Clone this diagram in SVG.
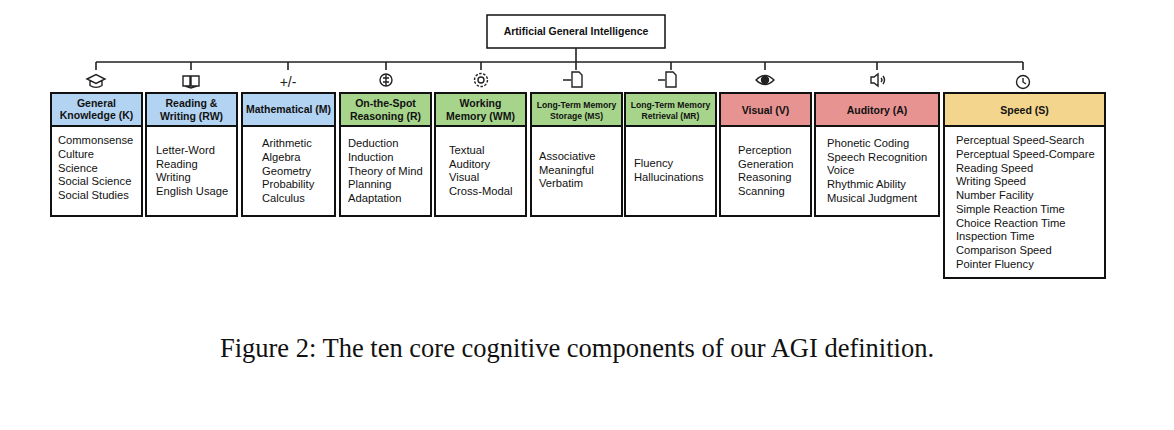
<svg xmlns="http://www.w3.org/2000/svg" width="1174" height="430" viewBox="0 0 1174 430">
<style>
.box{fill:#fff;stroke:#111;stroke-width:2}
.hd{stroke:#111;stroke-width:2}
.b{fill:#b3d3f2}.g{fill:#a6d48b}.r{fill:#e69391}.y{fill:#f3d58e}
.ht{font-family:"Liberation Sans",Arial,sans-serif;font-weight:bold;font-size:10.5px;fill:#111;text-anchor:middle}
.hs{font-size:8.6px}
.t{font-family:"Liberation Sans",Arial,sans-serif;font-size:11.2px;fill:#111}
.ln{stroke:#222;stroke-width:1.6;fill:none}
.ic{stroke:#222;stroke-width:1.4;fill:none}
</style>
<rect width="1174" height="430" fill="#fff"/>
<g id="root"><rect x="487" y="15" width="178" height="33" fill="#fff" stroke="#111" stroke-width="1.5"/><text class="ht" x="576" y="35">Artificial General Intelligence</text></g>
<g id="connectors" class="ln">
<path d="M576 48V62M96 62H1023M96 62V70M191 62V70M288 62V70M386 62V70M481 62V70M576 62V70M671 62V70M765 62V70M877 62V70M1023 62V70"/>
</g>
<g id="icons" class="ic">
<path d="M87 79l9-4.5 9 4.5-9 4.5z M90 81v4.5c3.5 2.5 8.5 2.5 12 0v-4.5"/>
<path d="M183 76h7v10h-7z M191 76h8v10h-8z M185 86l6 2 6-2"/>
<text x="288" y="87" font-family="Liberation Sans,sans-serif" font-size="14" fill="#222" stroke="none" text-anchor="middle">+/-</text>
<circle cx="386" cy="80" r="6"/><path d="M386 74v12 M383 78h6 M383 82h6"/>
<circle cx="481" cy="80" r="3"/><circle cx="481" cy="80" r="6.5" stroke-dasharray="2.5 1.5"/>
<path d="M572 72h7l3 3v12h-10z M563 80h8"/>
<path d="M666 72h7l3 3v12h-10z M658 80h7"/>
<path d="M756 80q9-9 18 0q-9 9-18 0z"/><circle cx="765" cy="80" r="3.5" fill="#222"/>
<path d="M871 77h3l4-3v12l-4-3h-3z M881 78q2 2 0 4 M883 76q3 4 0 8"/>
<circle cx="1023" cy="82" r="6.5"/><path d="M1023 78v4l3 2"/>
</g>
<g id="K"><rect class="box" x="51" y="93" width="91" height="123"/><rect class="hd b" x="51" y="93" width="91" height="33"/><text class="ht" x="96.5" y="107">General</text><text class="ht" x="96.5" y="119">Knowledge (K)</text>
<text class="t" x="58" y="144">Commonsense</text><text class="t" x="58" y="158">Culture</text><text class="t" x="58" y="172">Science</text><text class="t" x="58" y="185">Social Science</text><text class="t" x="58" y="199">Social Studies</text></g>
<g id="RW"><rect class="box" x="146" y="93" width="91" height="123"/><rect class="hd b" x="146" y="93" width="91" height="33"/><text class="ht" x="191.5" y="107">Reading &amp;</text><text class="ht" x="191.5" y="120">Writing (RW)</text>
<text class="t" x="156" y="154">Letter-Word</text><text class="t" x="156" y="168">Reading</text><text class="t" x="156" y="181">Writing</text><text class="t" x="156" y="195">English Usage</text></g>
<g id="M"><rect class="box" x="242" y="93" width="93" height="123"/><rect class="hd b" x="242" y="93" width="93" height="33"/><text class="ht" x="288.5" y="113">Mathematical (M)</text>
<text class="t" x="262" y="147">Arithmetic</text><text class="t" x="262" y="161">Algebra</text><text class="t" x="262" y="175">Geometry</text><text class="t" x="262" y="188">Probability</text><text class="t" x="262" y="202">Calculus</text></g>
<g id="R"><rect class="box" x="340" y="93" width="91" height="123"/><rect class="hd g" x="340" y="93" width="91" height="33"/><text class="ht" x="385.5" y="107">On-the-Spot</text><text class="ht" x="385.5" y="120">Reasoning (R)</text>
<text class="t" x="348" y="147">Deduction</text><text class="t" x="348" y="161">Induction</text><text class="t" x="348" y="175">Theory of Mind</text><text class="t" x="348" y="188">Planning</text><text class="t" x="348" y="202">Adaptation</text></g>
<g id="WM"><rect class="box" x="435" y="93" width="91" height="123"/><rect class="hd g" x="435" y="93" width="91" height="33"/><text class="ht" x="480.5" y="107">Working</text><text class="ht" x="480.5" y="120">Memory (WM)</text>
<text class="t" x="449" y="154">Textual</text><text class="t" x="449" y="168">Auditory</text><text class="t" x="449" y="181">Visual</text><text class="t" x="449" y="195">Cross-Modal</text></g>
<g id="MS"><rect class="box" x="531" y="93" width="91" height="123"/><rect class="hd g" x="531" y="93" width="91" height="33"/><text class="ht hs" x="576.5" y="108">Long-Term Memory</text><text class="ht hs" x="576.5" y="119">Storage (MS)</text>
<text class="t" x="539" y="160">Associative</text><text class="t" x="539" y="174">Meaningful</text><text class="t" x="539" y="187">Verbatim</text></g>
<g id="MR"><rect class="box" x="625" y="93" width="91" height="123"/><rect class="hd g" x="625" y="93" width="91" height="33"/><text class="ht hs" x="670.5" y="108">Long-Term Memory</text><text class="ht hs" x="670.5" y="119">Retrieval (MR)</text>
<text class="t" x="634" y="167">Fluency</text><text class="t" x="634" y="181">Hallucinations</text></g>
<g id="V"><rect class="box" x="720" y="93" width="91" height="123"/><rect class="hd r" x="720" y="93" width="91" height="33"/><text class="ht" x="765.5" y="114">Visual (V)</text>
<text class="t" x="738" y="154">Perception</text><text class="t" x="738" y="168">Generation</text><text class="t" x="738" y="181">Reasoning</text><text class="t" x="738" y="195">Scanning</text></g>
<g id="A"><rect class="box" x="815" y="93" width="124" height="123"/><rect class="hd r" x="815" y="93" width="124" height="33"/><text class="ht" x="877" y="114">Auditory (A)</text>
<text class="t" x="827" y="147">Phonetic Coding</text><text class="t" x="827" y="161">Speech Recognition</text><text class="t" x="827" y="174">Voice</text><text class="t" x="827" y="188">Rhythmic Ability</text><text class="t" x="827" y="202">Musical Judgment</text></g>
<g id="S"><rect class="box" x="944" y="93" width="161" height="185"/><rect class="hd y" x="944" y="93" width="161" height="33"/><text class="ht" x="1024.5" y="114">Speed (S)</text>
<text class="t" x="956" y="144">Perceptual Speed-Search</text><text class="t" x="956" y="158">Perceptual Speed-Compare</text><text class="t" x="956" y="172">Reading Speed</text><text class="t" x="956" y="185">Writing Speed</text><text class="t" x="956" y="199">Number Facility</text><text class="t" x="956" y="213">Simple Reaction Time</text><text class="t" x="956" y="227">Choice Reaction Time</text><text class="t" x="956" y="240">Inspection Time</text><text class="t" x="956" y="254">Comparison Speed</text><text class="t" x="956" y="268">Pointer Fluency</text></g>
<text x="577" y="357" font-family="Liberation Serif,serif" font-size="26.5" fill="#111" text-anchor="middle">Figure 2: The ten core cognitive components of our AGI definition.</text>
</svg>
